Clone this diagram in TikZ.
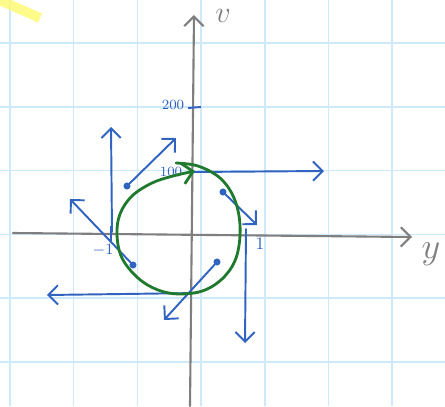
\documentclass[tikz,border=0pt]{standalone}
\usepackage{xcolor}
\usepackage{tikz}
\usetikzlibrary{arrows.meta, positioning, calc}

\definecolor{inkblue}{HTML}{3163C0}
\definecolor{inkgreen}{HTML}{1F7A2E}
\definecolor{inkgray}{HTML}{7F7F7F}
\definecolor{paperline}{HTML}{CDE9FA}
\definecolor{marker}{HTML}{FFFA6E}

\begin{document}
\begin{tikzpicture}[
  x=0.02cm, y=-0.02cm,
  gridline/.style={paperline, line width=0.9pt},
  axis/.style={inkgray, line width=1.2pt, line cap=round,
               -{Straight Barb[length=5.5pt, width=11pt, line width=1.2pt]}},
  vec/.style={inkblue, line width=1.1pt, line cap=round,
              -{Straight Barb[length=5.5pt, width=11pt, line width=1.1pt]}},
  dot/.style={inkblue, fill=inkblue, circle, inner sep=0pt, minimum size=4pt},
  lbl/.style={inkblue, font=\fontsize{8}{9}\selectfont, inner sep=0pt},
  flow/.style={inkgreen, line width=1.6pt, line cap=round,
               -{Straight Barb[length=6pt, width=12pt, line width=1.6pt]}}
]
\fill[white] (0,0) rectangle (445,406);
\useasboundingbox (0,0) rectangle (445,406);

% squared paper
\foreach \gx in {10,73.7,137.4,201.1,264.8,328.5,392.2}
  \draw[gridline] (\gx,0) -- (\gx,406);
\foreach \gy in {43,106.8,170.6,234.4,298.2,362}
  \draw[gridline] (0,\gy) -- (445,\gy);

% highlighter stroke
\draw[marker, line width=5.6pt, opacity=0.8] (-5,-2) -- (40,18);

% axes
\coordinate (yl) at (13,233);
\coordinate (yr) at (412,237);
\coordinate (vb) at (190,406);
\coordinate (vt) at (194,15);
\draw[axis] (yl) -- (yr);
\draw[axis] (vb) -- (vt);
\node[inkgray, font=\huge, inner sep=0pt] (ylab) at (431,254) {$y$};
\node[inkgray, font=\LARGE, inner sep=0pt] (vlab) at (223,16) {$v$};

% ticks and values
\draw[inkblue, line width=1.1pt] (188,108) -- (201,107);
\node[lbl] (v200) at (173,105) {200};
\node[lbl] (v100) at (171,172) {100};
\draw[inkblue, line width=1.1pt] (111,226) -- (111,241);
\node[lbl, font=\fontsize{9}{10}\selectfont] (ym1) at (103,250) {$-1$};
\node[lbl, font=\fontsize{10}{11}\selectfont] (yp1) at (260,244) {1};

% base points of the vectors
\coordinate (b1) at (193,172);
\node[dot] (b2) at (223,192) {};
\coordinate (b3) at (246,229);
\node[dot] (b4) at (217,262) {};
\coordinate (b5) at (198,293);
\node[dot] (b6) at (133,265) {};
\coordinate (b7) at (112,232);
\node[dot] (b8) at (127,186) {};

% tips of the vectors
\coordinate (t1) at (324,171);
\coordinate (t2) at (257,225);
\coordinate (t3) at (245,343);
\coordinate (t4) at (164,320);
\coordinate (t5) at (47,295);
\coordinate (t6) at (70,199);
\coordinate (t7) at (111,127);
\coordinate (t8) at (176,138);

\draw[vec] (b1) -- (t1);
\draw[vec] (b2) -- (t2);
\draw[vec] (b3) -- (t3);
\draw[vec] (b4) -- (t4);
\draw[vec] (b5) -- (t5);
\draw[vec] (b6) -- (t6);
\draw[vec] (b7) -- (t7);
\draw[vec] (b8) -- (t8);

% orbit
\draw[flow] plot[smooth, tension=0.6] coordinates {
  (176,163) (198,166) (220,178) (234,198) (240,225) (237,255)
  (225,276) (205,290) (180,294) (158,290) (138,278) (122,258)
  (117,235) (120,214) (132,196) (152,183) (173,176) (195,171)};
\end{tikzpicture}
\end{document}
